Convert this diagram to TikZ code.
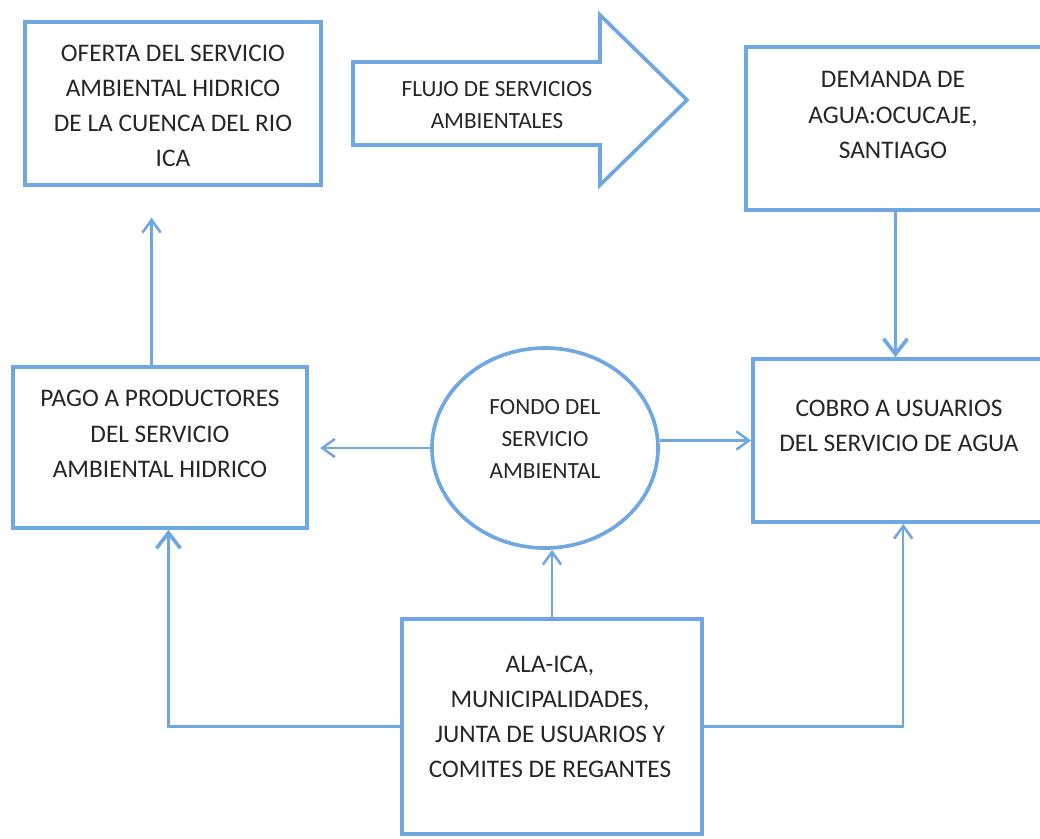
\documentclass[tikz,border=0pt]{standalone}
\usepackage{fontspec}
\setmainfont{Carlito}
\usetikzlibrary{arrows.meta,shapes.geometric}
\definecolor{lineblue}{RGB}{111,167,226}
\definecolor{txtgray}{RGB}{38,38,38}

\begin{document}
\begin{tikzpicture}[x=0.025cm, y=-0.025cm,
    box/.style={draw=lineblue, line width=2.6pt, fill=white, inner sep=0pt},
    txt/.style={text=txtgray, align=center, font=\fontsize{18}{25}\selectfont},
    smalltxt/.style={txt, font=\fontsize{16.5}{23}\selectfont},
    conn/.style={draw=lineblue, line width=1.8pt, -{Straight Barb[length=9pt,width=13pt]}},
    thickconn/.style={draw=lineblue, line width=2.6pt, -{Straight Barb[length=11pt,width=17pt]}}
  ]
  \useasboundingbox (0,0) rectangle (1040,838);

  % Boxes
  \node[box, minimum width=7.4cm, minimum height=4.075cm] (ofe) at (173,103.5) {};
  \node[txt] (ofetxt) at (173,106) {OFERTA DEL SERVICIO\\AMBIENTAL HIDRICO\\DE LA CUENCA DEL RIO\\ICA};

  \node[box, minimum width=7.475cm, minimum height=4.075cm] (dem) at (895.5,128.5) {};
  \node[txt] (demtxt) at (893,115) {DEMANDA DE\\AGUA:OCUCAJE,\\SANTIAGO};

  \node[box, minimum width=7.35cm, minimum height=4.025cm] (pago) at (160,447.5) {};
  \node[txt] (pagotxt) at (160,434) {PAGO A PRODUCTORES\\DEL SERVICIO\\AMBIENTAL HIDRICO};

  \node[box, minimum width=7.3cm, minimum height=4.075cm] (cob) at (899,440.5) {};
  \node[txt] (cobtxt) at (899,426) {COBRO A USUARIOS\\DEL SERVICIO DE AGUA};

  \node[box, minimum width=7.5cm, minimum height=5.375cm] (ala) at (552,726.5) {};
  \node[txt] (alatxt) at (550,717) {ALA-ICA,\\MUNICIPALIDADES,\\JUNTA DE USUARIOS Y\\COMITES DE REGANTES};

  % Fund
  \node[box, ellipse, minimum width=5.65cm, minimum height=5cm] (fondo) at (545,448) {};
  \node[smalltxt] (fondotxt) at (545,439) {FONDO DEL\\SERVICIO\\AMBIENTAL};

  % Big arrow
  \draw[lineblue, line width=2.6pt, fill=white, line join=miter]
    (353,62) -- (600,62) -- (600,15) -- (687,100) -- (600,185) -- (600,145) -- (353,145) -- cycle;
  \node[smalltxt] (flujo) at (497,105) {FLUJO DE SERVICIOS\\AMBIENTALES};

  % Connectors
  \draw[conn, shorten >=22pt] ([xshift=-6pt]pago.north) -- ([xshift=-6pt]pago.north |- ofe.south);
  \draw[thickconn] (dem.south) -- (dem.south |- cob.north);
  \draw[conn, shorten >=8pt] (fondo.west) -- (fondo.west -| pago.east);
  \draw[conn] (fondo.east |- cob.west) -- (cob.west);
  \draw[conn] (ala.north) -- (ala.north |- fondo.south);
  \draw[thickconn] (ala.west) -| ([xshift=6pt]pago.south);
  \draw[conn] (ala.east) -| ([xshift=3pt]cob.south);
\end{tikzpicture}
\end{document}
